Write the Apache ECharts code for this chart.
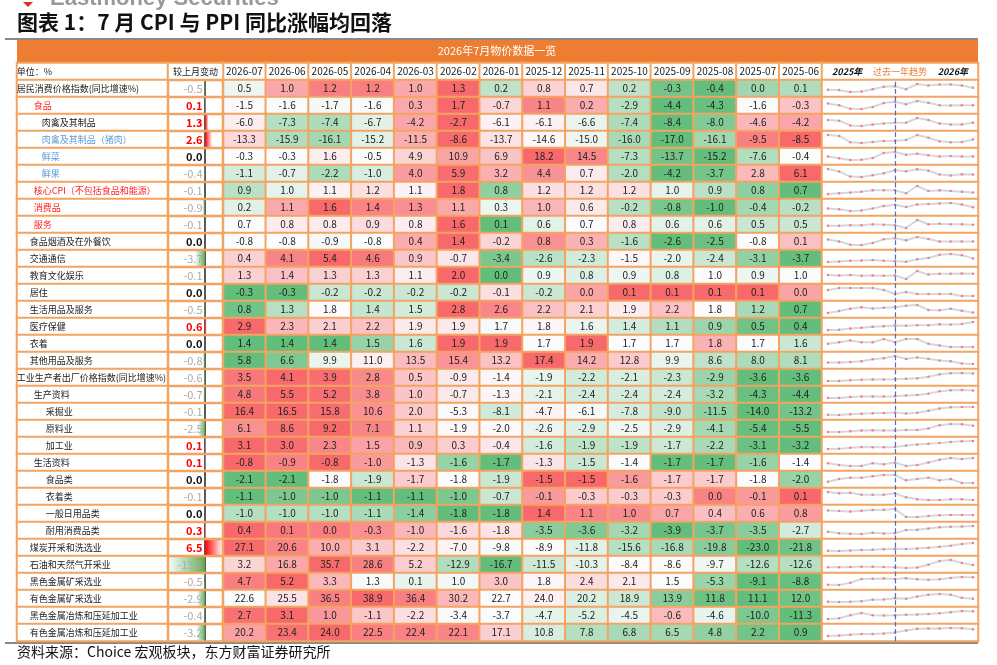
<!DOCTYPE html>
<html><head><meta charset="utf-8">
<script src="https://cdn.jsdelivr.net/npm/echarts@6/dist/echarts.min.js"></script>
<style>html,body{margin:0;background:#fff}#c{width:997px;height:665px}</style></head>
<body><div id="c"></div>
<script>
const months = ['2026-07','2026-06','2026-05','2026-04','2026-03','2026-02','2026-01','2025-12','2025-11','2025-10','2025-09','2025-08','2025-07','2025-06'];
const rowNames = ['居民消费价格指数(同比增速%)','食品','肉禽及其制品','肉禽及其制品（猪肉）','鲜菜','鲜果','核心CPI（不包括食品和能源）','消费品','服务','食品烟酒及在外餐饮','交通通信','教育文化娱乐','居住','生活用品及服务','医疗保健','衣着','其他用品及服务','工业生产者出厂价格指数(同比增速%)','生产资料','采掘业','原料业','加工业','生活资料','食品类','衣着类','一般日用品类','耐用消费品类','煤炭开采和洗选业','石油和天然气开采业','黑色金属矿采选业','有色金属矿采选业','黑色金属冶炼和压延加工业','有色金属冶炼和压延加工业'];
const changes = [-0.5,0.1,1.3,2.6,0.0,-0.4,-0.1,-0.9,-0.1,0.0,-3.7,-0.1,0.0,-0.5,0.6,0.0,-0.8,-0.6,-0.7,-0.1,-2.5,0.1,0.1,0.0,-0.1,0.0,0.3,6.5,-13.6,-0.5,-2.9,-0.4,-3.2];
const values = [
[0.5,1.0,1.2,1.2,1.0,1.3,0.2,0.8,0.7,0.2,-0.3,-0.4,0.0,0.1],
[-1.5,-1.6,-1.7,-1.6,0.3,1.7,-0.7,1.1,0.2,-2.9,-4.4,-4.3,-1.6,-0.3],
[-6.0,-7.3,-7.4,-6.7,-4.2,-2.7,-6.1,-6.1,-6.6,-7.4,-8.4,-8.0,-4.6,-4.2],
[-13.3,-15.9,-16.1,-15.2,-11.5,-8.6,-13.7,-14.6,-15.0,-16.0,-17.0,-16.1,-9.5,-8.5],
[-0.3,-0.3,1.6,-0.5,4.9,10.9,6.9,18.2,14.5,-7.3,-13.7,-15.2,-7.6,-0.4],
[-1.1,-0.7,-2.2,-1.0,4.0,5.9,3.2,4.4,0.7,-2.0,-4.2,-3.7,2.8,6.1],
[0.9,1.0,1.1,1.2,1.1,1.8,0.8,1.2,1.2,1.2,1.0,0.9,0.8,0.7],
[0.2,1.1,1.6,1.4,1.3,1.1,0.3,1.0,0.6,-0.2,-0.8,-1.0,-0.4,-0.2],
[0.7,0.8,0.8,0.9,0.8,1.6,0.1,0.6,0.7,0.8,0.6,0.6,0.5,0.5],
[-0.8,-0.8,-0.9,-0.8,0.4,1.4,-0.2,0.8,0.3,-1.6,-2.6,-2.5,-0.8,0.1],
[0.4,4.1,5.4,4.6,0.9,-0.7,-3.4,-2.6,-2.3,-1.5,-2.0,-2.4,-3.1,-3.7],
[1.3,1.4,1.3,1.3,1.1,2.0,0.0,0.9,0.8,0.9,0.8,1.0,0.9,1.0],
[-0.3,-0.3,-0.2,-0.2,-0.2,-0.2,-0.1,-0.2,0.0,0.1,0.1,0.1,0.1,0.0],
[0.8,1.3,1.8,1.4,1.5,2.8,2.6,2.2,2.1,1.9,2.2,1.8,1.2,0.7],
[2.9,2.3,2.1,2.2,1.9,1.9,1.7,1.8,1.6,1.4,1.1,0.9,0.5,0.4],
[1.4,1.4,1.4,1.5,1.6,1.9,1.9,1.7,1.9,1.7,1.7,1.8,1.7,1.6],
[5.8,6.6,9.9,11.0,13.5,15.4,13.2,17.4,14.2,12.8,9.9,8.6,8.0,8.1],
[3.5,4.1,3.9,2.8,0.5,-0.9,-1.4,-1.9,-2.2,-2.1,-2.3,-2.9,-3.6,-3.6],
[4.8,5.5,5.2,3.8,1.0,-0.7,-1.3,-2.1,-2.4,-2.4,-2.4,-3.2,-4.3,-4.4],
[16.4,16.5,15.8,10.6,2.0,-5.3,-8.1,-4.7,-6.1,-7.8,-9.0,-11.5,-14.0,-13.2],
[6.1,8.6,9.2,7.1,1.1,-1.9,-2.0,-2.6,-2.9,-2.5,-2.9,-4.1,-5.4,-5.5],
[3.1,3.0,2.3,1.5,0.9,0.3,-0.4,-1.6,-1.9,-1.9,-1.7,-2.2,-3.1,-3.2],
[-0.8,-0.9,-0.8,-1.0,-1.3,-1.6,-1.7,-1.3,-1.5,-1.4,-1.7,-1.7,-1.6,-1.4],
[-2.1,-2.1,-1.8,-1.9,-1.7,-1.8,-1.9,-1.5,-1.5,-1.6,-1.7,-1.7,-1.8,-2.0],
[-1.1,-1.0,-1.0,-1.1,-1.1,-1.0,-0.7,-0.1,-0.3,-0.3,-0.3,0.0,-0.1,0.1],
[-1.0,-1.0,-1.0,-1.1,-1.4,-1.8,-1.8,1.4,1.1,1.0,0.7,0.4,0.6,0.8],
[0.4,0.1,0.0,-0.3,-1.0,-1.6,-1.8,-3.5,-3.6,-3.2,-3.9,-3.7,-3.5,-2.7],
[27.1,20.6,10.0,3.1,-2.2,-7.0,-9.8,-8.9,-11.8,-15.6,-16.8,-19.8,-23.0,-21.8],
[3.2,16.8,35.7,28.6,5.2,-12.9,-16.7,-11.5,-10.3,-8.4,-8.6,-9.7,-12.6,-12.6],
[4.7,5.2,3.3,1.3,0.1,1.0,3.0,1.8,2.4,2.1,1.5,-5.3,-9.1,-8.8],
[22.6,25.5,36.5,38.9,36.4,30.2,22.7,24.0,20.2,18.9,13.9,11.8,11.1,12.0],
[2.7,3.1,1.0,-1.1,-2.2,-3.4,-3.7,-4.7,-5.2,-4.5,-0.6,-4.6,-10.0,-11.3],
[20.2,23.4,24.0,22.5,22.4,22.1,17.1,10.8,7.8,6.8,6.5,4.8,2.2,0.9]
];
const indents = [18,35,43,43,43,43,35,35,35,31,31,31,31,31,31,31,31,18,35,47,47,47,35,47,47,47,47,31,31,31,31,31,31];
const nameColors = ['#222','#FF2020','#222','#5B9BD5','#5B9BD5','#5B9BD5','#FF2020','#FF2020','#FF2020'];

const ORANGE = '#F4A460';
const FONT = '"Noto Sans CJK SC", sans-serif';
const N = rowNames.length;
const yCats = ['h'].concat(rowNames.map((_, i) => 'r' + i));
const top0 = 63, bot0 = 24;

function mix(a, b, t) {
  const pa = a.match(/\w\w/g).map(h => parseInt(h, 16)), pb = b.match(/\w\w/g).map(h => parseInt(h, 16));
  return 'rgb(' + pa.map((v, i) => Math.round(v + (pb[i] - v) * t)).join(',') + ')';
}
function scaleColor(v, arr) {
  const s = arr.slice().sort((a, b) => a - b);
  const mn = s[0], mx = s[s.length - 1];
  const m = (s[6] + s[7]) / 2;
  if (v >= m) return mx === m ? '#FCFCFF' : mix('FCFCFF', 'F8696B', (v - m) / (mx - m));
  return mn === m ? '#FCFCFF' : mix('FCFCFF', '63BE7B', (m - v) / (m - mn));
}
const cellStyle = {borderColor: ORANGE, borderWidth: 2};

const grids = [], xAxes = [], yAxes = [], series = [];
function addGrid(g, x, y) {
  grids.push(g); const gi = grids.length - 1;
  xAxes.push(Object.assign({gridIndex: gi}, x)); yAxes.push(Object.assign({gridIndex: gi}, y));
  return gi;
}
const yCat = {type: 'category', data: yCats, inverse: true, show: false};

let g = addGrid({left: 17, width: 151, top: top0, bottom: bot0}, {type: 'category', data: ['n'], show: false}, yCat);
series.push({type: 'heatmap', xAxisIndex: g, yAxisIndex: g, itemStyle: cellStyle,
  data: [{value: [0, 0, 0], itemStyle: {color: '#fff'}, label: {show: true, formatter: '单位：%', position: 'insideLeft', distance: 0, offset: [1, 0], fontSize: 9, color: '#222', fontFamily: FONT}}]
    .concat(rowNames.map((n, i) => ({value: [0, i + 1, 0], itemStyle: {color: '#fff'},
      label: {show: true, formatter: n, position: 'insideLeft', distance: 0, offset: [indents[i] - 17, 0], fontSize: 9, color: nameColors[i] || '#222', fontFamily: FONT}})))});

g = addGrid({left: 168, width: 55, top: top0 + 17, bottom: bot0}, {type: 'value', min: -13.7, max: 6.6, show: false},
  {type: 'category', data: rowNames, inverse: true, axisTick: {show: false}, axisLabel: {show: false}, axisLine: {show: true, lineStyle: {color: '#222', width: 1.5}}});
series.push({type: 'bar', xAxisIndex: g, yAxisIndex: g, barWidth: 15, z: 1,
  data: changes.map(v => ({value: v, itemStyle: {color: v < 0
    ? {type: 'linear', x: 1, y: 0, x2: 0, y2: 0, colorStops: [{offset: 0, color: '#63A84B'}, {offset: 1, color: 'rgba(99,190,123,0.05)'}]}
    : {type: 'linear', x: 0, y: 0, x2: 1, y2: 0, colorStops: [{offset: 0, color: '#FF0000'}, {offset: 1, color: 'rgba(255,255,255,1)'}]}}}))});

g = addGrid({left: 168, width: 55, top: top0, bottom: bot0}, {type: 'category', data: ['c'], show: false}, yCat);
series.push({type: 'heatmap', xAxisIndex: g, yAxisIndex: g, z: 3, itemStyle: cellStyle,
  data: [{value: [0, 0, 0], itemStyle: {color: '#fff'}, label: {show: true, formatter: '较上月变动', fontSize: 9, color: '#222', fontFamily: FONT}}]
    .concat(changes.map((v, i) => ({value: [0, i + 1, v], itemStyle: {color: 'rgba(0,0,0,0)'},
      label: {show: true, formatter: v.toFixed(1), align: 'right', offset: [7, 0], fontSize: 11, fontFamily: FONT,
        fontWeight: v >= 0 ? 'bold' : 'normal', color: v > 0 ? '#FF0000' : (v === 0 ? '#111' : '#AAAAAA')}})))});

g = addGrid({left: 223, right: 175, top: top0, bottom: bot0}, {type: 'category', data: months, show: false}, yCat);
const md = [];
months.forEach((m, j) => md.push({value: [j, 0, 0], itemStyle: {color: '#fff'}, label: {show: true, formatter: m, fontSize: 10, color: '#222', fontFamily: FONT}}));
values.forEach((row, i) => row.forEach((v, j) => md.push({value: [j, i + 1, v], itemStyle: {color: scaleColor(v, row)},
  label: {show: true, formatter: v.toFixed(1), fontSize: 10, color: '#222', fontFamily: FONT}})));
series.push({type: 'heatmap', xAxisIndex: g, yAxisIndex: g, itemStyle: cellStyle, data: md});

g = addGrid({left: 822, width: 156, top: top0, bottom: bot0}, {type: 'category', data: ['t'], show: false}, yCat);
series.push({type: 'heatmap', xAxisIndex: g, yAxisIndex: g, itemStyle: cellStyle,
  data: [{value: [0, 0, 0], itemStyle: {color: '#fff'}, label: {show: true, fontFamily: FONT,
    formatter: '{a|2025年}    {b|过去一年趋势}    {a|2026年}',
    rich: {a: {fontSize: 9, fontStyle: 'italic', fontWeight: 'bold', color: '#111', fontFamily: FONT}, b: {fontSize: 9, color: '#ED7D31', fontFamily: FONT}}}}]
    .concat(rowNames.map((n, i) => ({value: [0, i + 1, 0], itemStyle: {color: '#fff'}})))});

const trendX = months.slice().reverse();
g = addGrid({left: 828, width: 145, top: top0 + 17, bottom: bot0}, {type: 'category', data: trendX, show: false, boundaryGap: false}, {type: 'value', show: false});
series.push({type: 'line', xAxisIndex: g, yAxisIndex: g, data: [], z: 5,
  markLine: {silent: true, symbol: 'none', label: {show: false}, lineStyle: {color: '#4472C4', type: 'dashed', width: 1.2}, data: [{xAxis: '2025-12'}]}});

const rowH = (665 - top0 - bot0) / (N + 1);
values.forEach((row, i) => {
  const mn = Math.min(...row), mx = Math.max(...row);
  const gi = addGrid({left: 828, width: 145, top: top0 + rowH * (i + 1) + 4, height: rowH - 9},
    {type: 'category', data: trendX, show: false, boundaryGap: false},
    {type: 'value', show: false, min: mn, max: mx === mn ? mn + 1 : mx});
  series.push({type: 'line', xAxisIndex: gi, yAxisIndex: gi, data: row.slice().reverse(), z: 4,
    lineStyle: {color: '#D6D6DE', width: 2}, symbol: 'circle', symbolSize: 2.5, itemStyle: {color: '#F08080'}, silent: true});
});

const chart = echarts.init(document.getElementById('c'));
chart.setOption({
  animation: false,
  grid: grids, xAxis: xAxes, yAxis: yAxes, series: series,
  graphic: [
    {type: 'text', left: 50, top: -12, style: {text: 'Eastmoney Securities', font: 'bold 22px "Liberation Sans", sans-serif', fill: '#999'}},
    {type: 'polygon', shape: {points: [[23, 2], [33, 2], [28, 7]]}, style: {fill: '#E03020'}},
    {type: 'text', left: 17, top: 12, style: {text: '图表 1：7 月 CPI 与 PPI 同比涨幅均回落', font: 'bold 21px "Noto Sans CJK SC"', fill: '#111'}},
    {type: 'rect', shape: {x: 5, y: 38, width: 973, height: 2}, style: {fill: '#888'}},
    {type: 'rect', shape: {x: 17, y: 40, width: 961, height: 23}, style: {fill: '#ED7D31'}},
    {type: 'text', x: 497, y: 51, style: {text: '2026年7月物价数据一览', font: '11px "Noto Sans CJK SC"', fill: '#fff', align: 'center', verticalAlign: 'middle'}},
    {type: 'rect', shape: {x: 5, y: 642, width: 973, height: 2}, style: {fill: '#888'}},
    {type: 'text', left: 17, top: 645, style: {text: '资料来源：Choice 宏观板块，东方财富证券研究所', font: '14px "Noto Sans CJK SC"', fill: '#111'}}
  ]
});
</script></body></html>
